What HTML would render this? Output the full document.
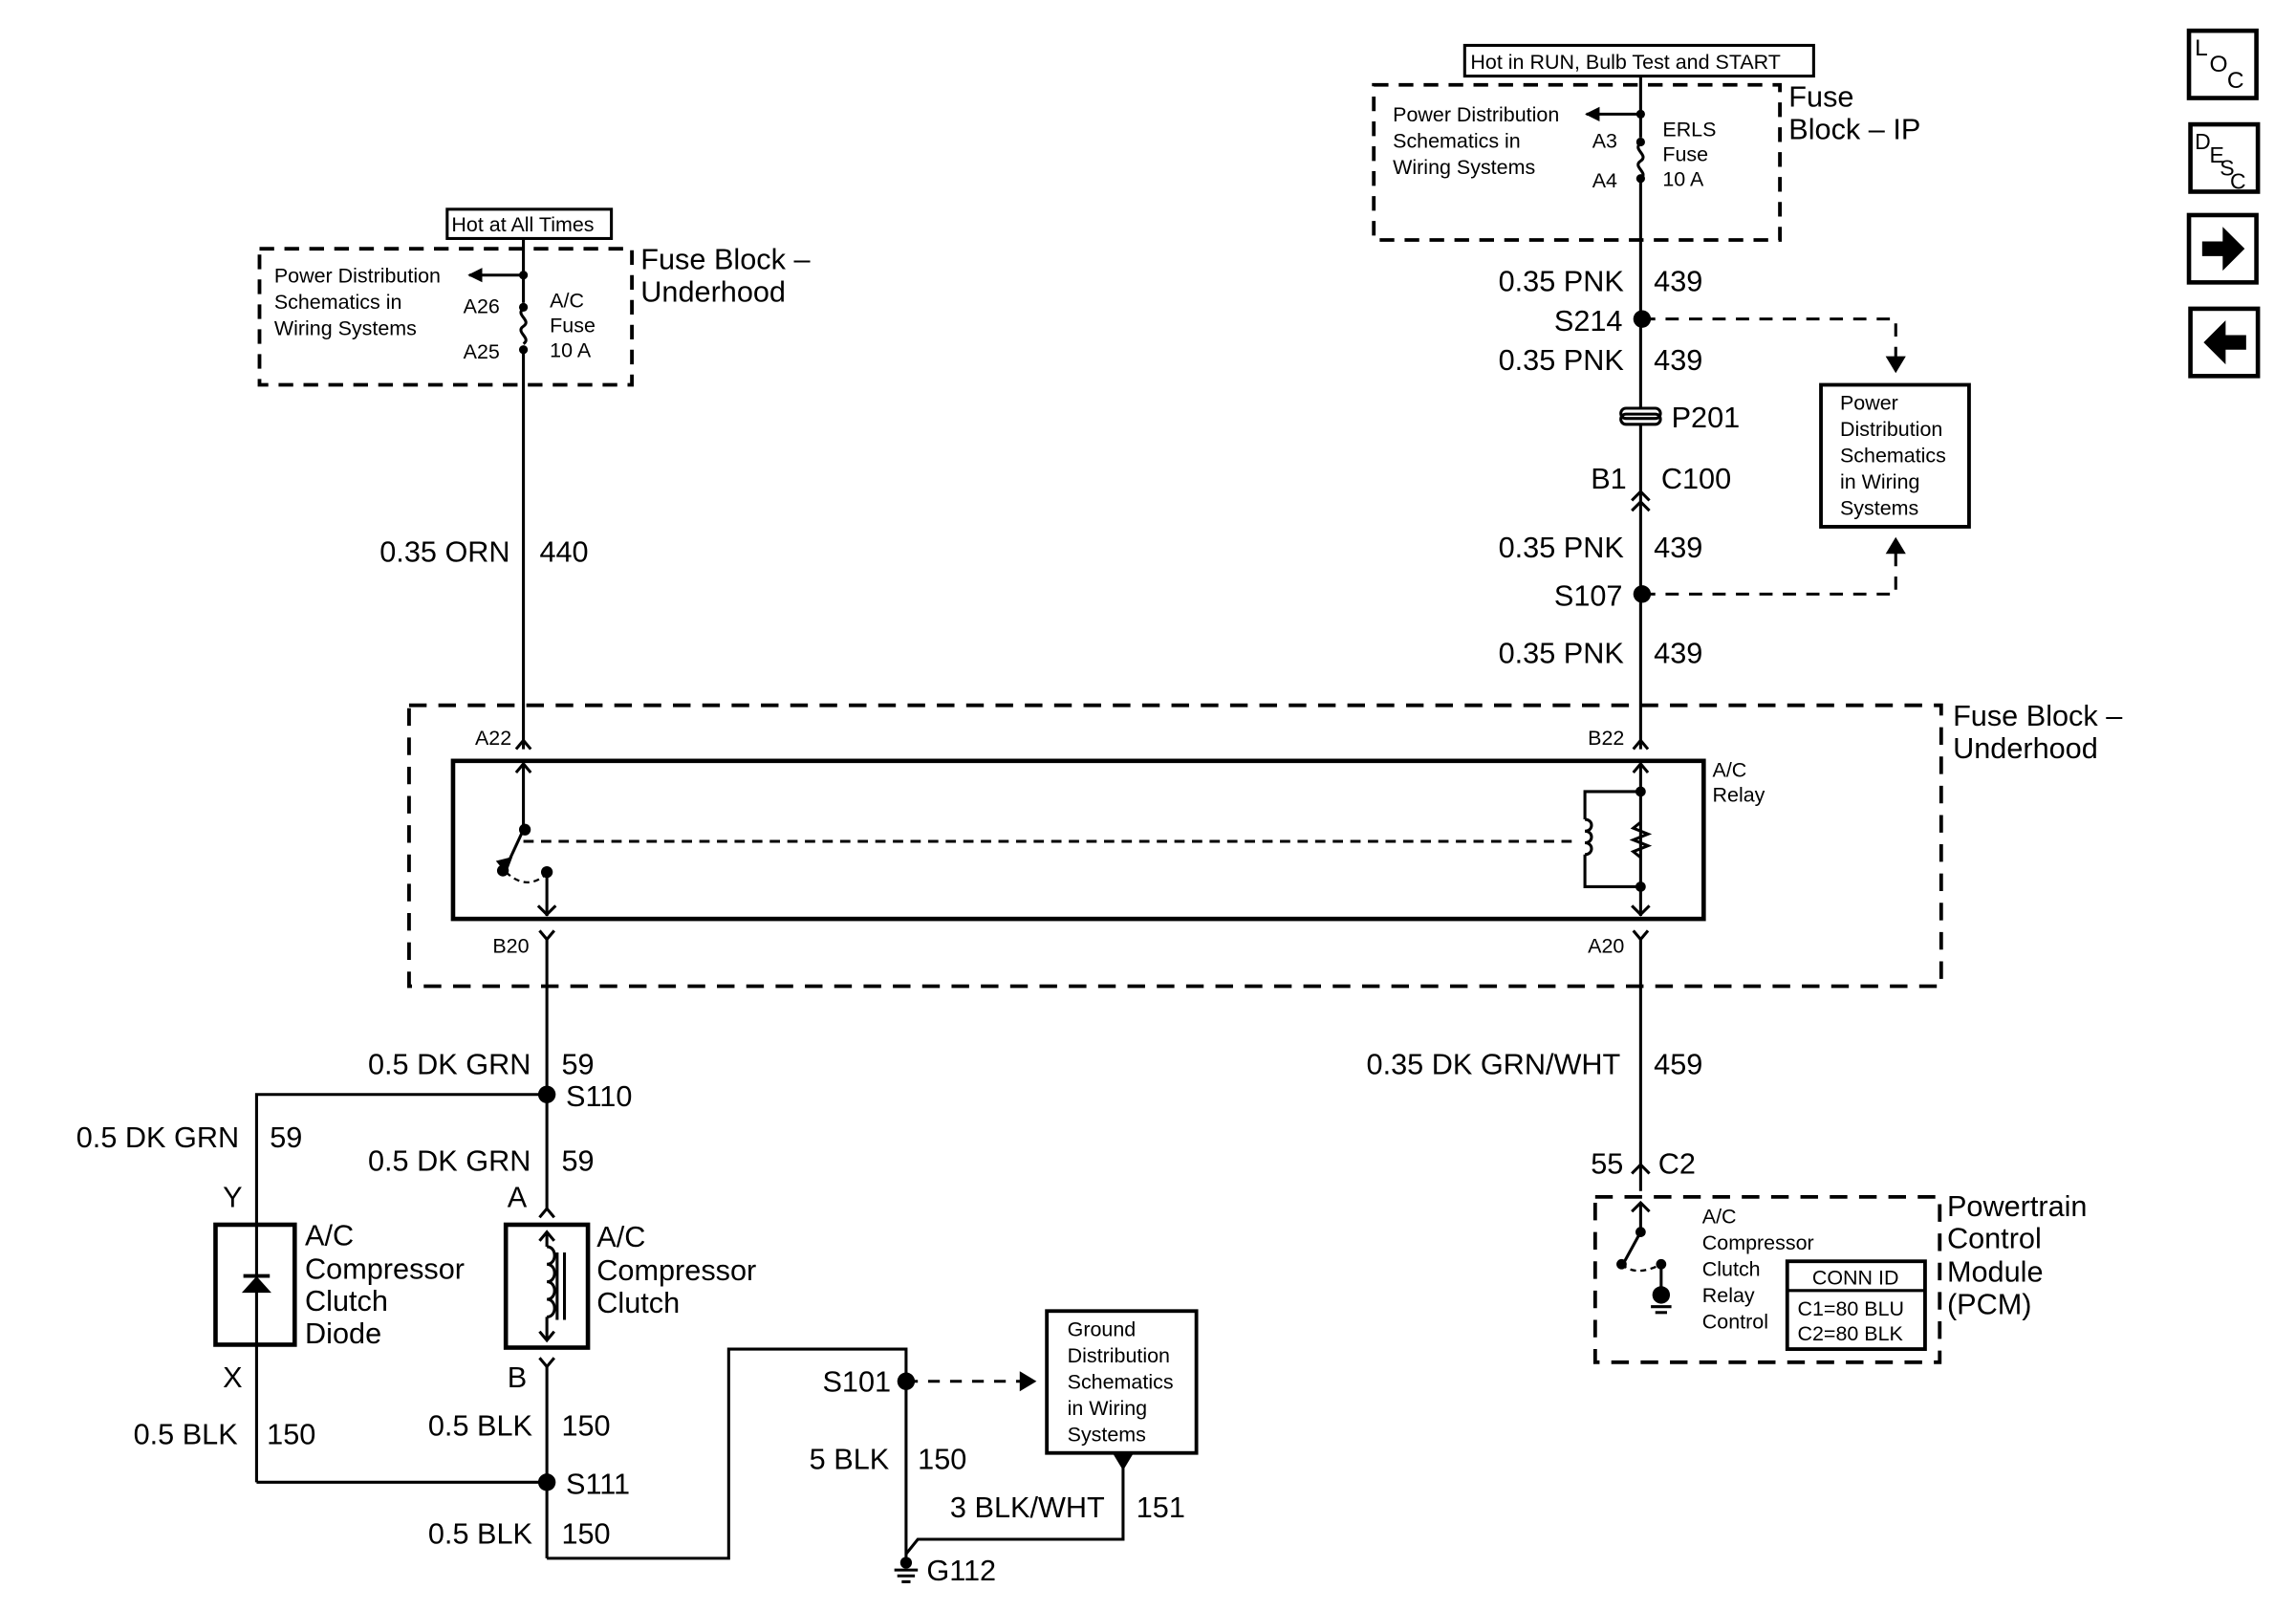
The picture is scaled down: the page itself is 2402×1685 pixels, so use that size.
<!DOCTYPE html>
<html><head><meta charset="utf-8">
<style>
html,body{margin:0;padding:0;background:#fff;}
svg{display:block;}
text{font-family:"Liberation Sans",Arial,sans-serif;fill:#000;}
.b{font-size:20px;}
.s{font-size:14px;}
</style></head>
<body>
<svg width="2402" height="1685" viewBox="0 0 1566 1101" preserveAspectRatio="none" xmlns="http://www.w3.org/2000/svg">
<defs>
<marker id="ah" markerWidth="10" markerHeight="10" refX="9" refY="5" orient="auto" markerUnits="userSpaceOnUse"><path d="M0,0 L10,5 L0,10 z" fill="#000"/></marker>
</defs>
<g stroke="#000" fill="none" stroke-width="2">
<rect x="1493" y="21" width="46" height="46" stroke-width="3"/>
<rect x="1494" y="85" width="46" height="46" stroke-width="3"/>
<rect x="1493" y="147" width="46" height="46" stroke-width="3"/>
<rect x="1494" y="211" width="46" height="46" stroke-width="3"/>
</g>
<text x="1497" y="38" class="s" style="font-size:16px">L</text>
<text x="1507" y="49" class="s" style="font-size:16px">O</text>
<text x="1519" y="60" class="s" style="font-size:16px">C</text>
<text x="1497" y="102" class="s" style="font-size:15px">D</text>
<text x="1507" y="111" class="s" style="font-size:15px">E</text>
<text x="1514" y="120" class="s" style="font-size:15px">S</text>
<text x="1521" y="129" class="s" style="font-size:15px">C</text>
<path d="M1502,165 h14 v-10 l15,15 l-15,15 v-10 h-14 z" fill="#000"/>
<path d="M1532,229 h-14 v-10 l-15,15 l15,15 v-10 h14 z" fill="#000"/>

<g stroke="#000" fill="none" stroke-width="2">
<rect x="305" y="143" width="112" height="20"/>
<rect x="177" y="170" width="254" height="93" stroke-dasharray="10,7" stroke-width="2.5"/>
<line x1="357" y1="163" x2="357" y2="207"/>
<path d="M357,211 c-6,4 6,8 0,12 c-6,4 6,8 0,12"/>
<line x1="357" y1="240" x2="357" y2="512"/>
<line x1="357" y1="188" x2="320" y2="188" marker-end="url(#ah)"/>
<rect x="999" y="31" width="238" height="21"/>
<rect x="937" y="58" width="277" height="106" stroke-dasharray="10,7" stroke-width="2.5"/>
<line x1="1119" y1="52" x2="1119" y2="94"/>
<path d="M1119,98 c-6,4 6,8 0,12 c-6,4 6,8 0,12"/>
<line x1="1119" y1="122" x2="1119" y2="278"/>
<line x1="1119" y1="78" x2="1082" y2="78" marker-end="url(#ah)"/>
<line x1="1119" y1="290" x2="1119" y2="512"/>
<path d="M1109,279 h20 a3.5,3.5 0 0 1 0,7 h-20 a3.5,3.5 0 0 1 0,-7 z" stroke-width="2"/>
<path d="M1109,283 h20 a3.5,3.5 0 0 1 0,7 h-20 a3.5,3.5 0 0 1 0,-7 z" stroke-width="2"/>
<path d="M1113,342 l6,-6 l6,6 M1113,349 l6,-6 l6,6"/>
<path d="M1120,218 H1293 V246" stroke-dasharray="9,7"/>
<path d="M1287,244 l6,10 l6,-10 z" fill="#000" stroke-width="1"/>
<rect x="1242" y="263" width="101" height="97" stroke-width="2.5"/>
<path d="M1120,406 H1293 V376" stroke-dasharray="9,7"/>
<path d="M1287,378 l6,-10 l6,10 z" fill="#000" stroke-width="1"/>
<rect x="279" y="482" width="1045" height="192" stroke-dasharray="12,8" stroke-width="2.5"/>
<rect x="309" y="520" width="853" height="108" stroke-width="3"/>
<path d="M352,512 l5,-6 l5,6 M352,528 l5,-6 l5,6"/>
<path d="M1114,512 l5,-6 l5,6 M1114,528 l5,-6 l5,6"/>
<line x1="357" y1="522" x2="357" y2="567"/>
<line x1="357" y1="567" x2="345" y2="593"/>
<path d="M340,589 l5,6 l3,-8 z" fill="#000"/>
<path d="M345,596 q15,14 29,0" stroke-dasharray="4,3" stroke-width="1.5"/>
<line x1="373" y1="596" x2="373" y2="626"/>
<path d="M367,619 l6,6 l6,-6"/>
<line x1="357" y1="575" x2="1075" y2="575" stroke-dasharray="7,5"/>
<line x1="1119" y1="522" x2="1119" y2="626"/>
<path d="M1113,619 l6,6 l6,-6"/>
<path d="M1119,541 H1081 V560 M1081,560 c6,0 6,8 0,8 c6,0 6,8 0,8 c6,0 6,8 0,8 M1081,584 V606 H1119"/>
<path d="M1119,562 l-5,4 l10,4 l-10,4 l10,4 l-10,4 l5,4"/>
<path d="M368,636 l5,6 l5,-6"/>
<path d="M1114,636 l5,6 l5,-6"/>
<line x1="373" y1="642" x2="373" y2="826"/>
<line x1="1119" y1="642" x2="1119" y2="814"/>
<path d="M373,748 H175 V837"/>
<rect x="147" y="837" width="54" height="82" stroke-width="3"/>
<line x1="175" y1="837" x2="175" y2="1013"/>
<line x1="166" y1="872" x2="184" y2="872" stroke-width="2.5"/>
<path d="M166,883 L175,873 L184,883 z" fill="#000" stroke-width="1"/>
<path d="M368,832 l5,-6 l5,6"/>
<rect x="345" y="837" width="56" height="84" stroke-width="3"/>
<line x1="373" y1="842" x2="373" y2="852"/>
<path d="M368,848 l5,-6 l5,6"/>
<path d="M373,852 c7,0 7,12 0,12 c7,0 7,12 0,12 c7,0 7,12 0,12 c7,0 7,12 0,12"/>
<line x1="373" y1="900" x2="373" y2="916"/>
<path d="M368,910 l5,6 l5,-6"/>
<line x1="380" y1="856" x2="380" y2="902"/>
<line x1="385" y1="856" x2="385" y2="902"/>
<path d="M368,928 l5,6 l5,-6"/>
<line x1="373" y1="934" x2="373" y2="1065"/>
<line x1="175" y1="1013" x2="373" y2="1013"/>
<path d="M373,1065 H497 V922 H618 V1068"/>
<path d="M618,944 H700" stroke-dasharray="8,7"/>
<path d="M696,938 l10,6 l-10,6 z" fill="#000" stroke-width="1"/>
<rect x="714" y="896" width="102" height="97" stroke-width="2.5"/>
<path d="M766,1000 V1052 H626 L618,1062"/>
<path d="M760,994 l6,10 l6,-10 z" fill="#000" stroke-width="1"/>
<line x1="610" y1="1073" x2="626" y2="1073"/>
<line x1="612" y1="1077" x2="624" y2="1077"/>
<line x1="615" y1="1081" x2="621" y2="1081"/>
<path d="M1113,802 l6,-6 l6,6"/>
<rect x="1088" y="818" width="235" height="113" stroke-dasharray="12,8" stroke-width="2.5"/>
<line x1="1119" y1="822" x2="1119" y2="842"/>
<path d="M1113,828 l6,-6 l6,6"/>
<line x1="1119" y1="842" x2="1107" y2="864"/>
<path d="M1106,864 q10,9 27,0" stroke-dasharray="4,3" stroke-width="1.5"/>
<line x1="1133" y1="864" x2="1133" y2="884"/>
<line x1="1126" y1="893" x2="1140" y2="893"/>
<line x1="1129" y1="897" x2="1137" y2="897"/>
<rect x="1219" y="862" width="94" height="60" stroke-width="2.5"/>
<line x1="1219" y1="882" x2="1313" y2="882" stroke-width="2"/>
</g>
<g fill="#000">
<circle cx="357" cy="188" r="3"/><circle cx="357" cy="210" r="3"/><circle cx="357" cy="239" r="3"/>
<circle cx="1119" cy="78" r="3"/><circle cx="1119" cy="97" r="3"/><circle cx="1119" cy="122" r="3"/>
<circle cx="1120" cy="218" r="6"/><circle cx="1120" cy="406" r="6"/>
<circle cx="358" cy="567" r="4"/><circle cx="343" cy="595" r="4"/><circle cx="373" cy="596" r="4"/>
<circle cx="1119" cy="541" r="3.5"/><circle cx="1119" cy="606" r="3.5"/>
<circle cx="373" cy="748" r="6"/><circle cx="373" cy="1013" r="6"/><circle cx="618" cy="944" r="6"/>
<circle cx="618" cy="1068" r="4"/>
<circle cx="1119" cy="842" r="3.5"/><circle cx="1106" cy="864" r="3.5"/><circle cx="1133" cy="864" r="3.5"/>
<circle cx="1133" cy="885" r="6"/>
</g>
<text x="308" y="158" class="s">Hot at All Times</text>
<text x="187" y="193" class="s">Power Distribution</text>
<text x="187" y="211" class="s">Schematics in</text>
<text x="187" y="229" class="s">Wiring Systems</text>
<text x="316" y="214" class="s">A26</text>
<text x="316" y="245" class="s">A25</text>
<text x="375" y="210" class="s">A/C</text>
<text x="375" y="227" class="s">Fuse</text>
<text x="375" y="244" class="s">10 A</text>
<text x="437" y="184" class="b">Fuse Block –</text>
<text x="437" y="206" class="b">Underhood</text>
<text x="1003" y="47" class="s">Hot in RUN, Bulb Test and START</text>
<text x="950" y="83" class="s">Power Distribution</text>
<text x="950" y="101" class="s">Schematics in</text>
<text x="950" y="119" class="s">Wiring Systems</text>
<text x="1086" y="101" class="s">A3</text>
<text x="1086" y="128" class="s">A4</text>
<text x="1134" y="93" class="s">ERLS</text>
<text x="1134" y="110" class="s">Fuse</text>
<text x="1134" y="127" class="s">10 A</text>
<text x="1220" y="73" class="b">Fuse</text>
<text x="1220" y="95" class="b">Block – IP</text>
<text x="1022" y="199" class="b">0.35 PNK</text><text x="1128" y="199" class="b">439</text>
<text x="1060" y="226" class="b">S214</text>
<text x="1022" y="253" class="b">0.35 PNK</text><text x="1128" y="253" class="b">439</text>
<text x="1140" y="292" class="b">P201</text>
<text x="1085" y="334" class="b">B1</text><text x="1133" y="334" class="b">C100</text>
<text x="1022" y="381" class="b">0.35 PNK</text><text x="1128" y="381" class="b">439</text>
<text x="1060" y="414" class="b">S107</text>
<text x="1022" y="453" class="b">0.35 PNK</text><text x="1128" y="453" class="b">439</text>
<text x="1255" y="280" class="s">Power</text>
<text x="1255" y="298" class="s">Distribution</text>
<text x="1255" y="316" class="s">Schematics</text>
<text x="1255" y="334" class="s">in Wiring</text>
<text x="1255" y="352" class="s">Systems</text>
<text x="259" y="384" class="b">0.35 ORN</text><text x="368" y="384" class="b">440</text>
<text x="1332" y="496" class="b">Fuse Block –</text>
<text x="1332" y="518" class="b">Underhood</text>
<text x="324" y="509" class="s">A22</text>
<text x="1083" y="509" class="s">B22</text>
<text x="1168" y="531" class="s">A/C</text>
<text x="1168" y="548" class="s">Relay</text>
<text x="336" y="651" class="s">B20</text>
<text x="1083" y="651" class="s">A20</text>
<text x="251" y="734" class="b">0.5 DK GRN</text><text x="383" y="734" class="b">59</text>
<text x="386" y="756" class="b">S110</text>
<text x="52" y="784" class="b">0.5 DK GRN</text><text x="184" y="784" class="b">59</text>
<text x="251" y="800" class="b">0.5 DK GRN</text><text x="383" y="800" class="b">59</text>
<text x="932" y="734" class="b">0.35 DK GRN/WHT</text><text x="1128" y="734" class="b">459</text>
<text x="1085" y="802" class="b">55</text><text x="1131" y="802" class="b">C2</text>
<text x="152" y="825" class="b">Y</text>
<text x="346" y="825" class="b">A</text>
<text x="208" y="851" class="b">A/C</text>
<text x="208" y="874" class="b">Compressor</text>
<text x="208" y="896" class="b">Clutch</text>
<text x="208" y="918" class="b">Diode</text>
<text x="407" y="852" class="b">A/C</text>
<text x="407" y="875" class="b">Compressor</text>
<text x="407" y="897" class="b">Clutch</text>
<text x="152" y="948" class="b">X</text>
<text x="346" y="948" class="b">B</text>
<text x="91" y="987" class="b">0.5 BLK</text><text x="182" y="987" class="b">150</text>
<text x="292" y="981" class="b">0.5 BLK</text><text x="383" y="981" class="b">150</text>
<text x="386" y="1021" class="b">S111</text>
<text x="292" y="1055" class="b">0.5 BLK</text><text x="383" y="1055" class="b">150</text>
<text x="561" y="951" class="b">S101</text>
<text x="552" y="1004" class="b">5 BLK</text><text x="626" y="1004" class="b">150</text>
<text x="648" y="1037" class="b">3 BLK/WHT</text><text x="775" y="1037" class="b">151</text>
<text x="632" y="1080" class="b">G112</text>
<text x="728" y="913" class="s">Ground</text>
<text x="728" y="931" class="s">Distribution</text>
<text x="728" y="949" class="s">Schematics</text>
<text x="728" y="967" class="s">in Wiring</text>
<text x="728" y="985" class="s">Systems</text>
<text x="1161" y="836" class="s">A/C</text>
<text x="1161" y="854" class="s">Compressor</text>
<text x="1161" y="872" class="s">Clutch</text>
<text x="1161" y="890" class="s">Relay</text>
<text x="1161" y="908" class="s">Control</text>
<text x="1236" y="878" class="s">CONN ID</text>
<text x="1226" y="899" class="s">C1=80 BLU</text>
<text x="1226" y="916" class="s">C2=80 BLK</text>
<text x="1328" y="831" class="b">Powertrain</text>
<text x="1328" y="853" class="b">Control</text>
<text x="1328" y="876" class="b">Module</text>
<text x="1328" y="898" class="b">(PCM)</text>
</svg>
</body></html>
